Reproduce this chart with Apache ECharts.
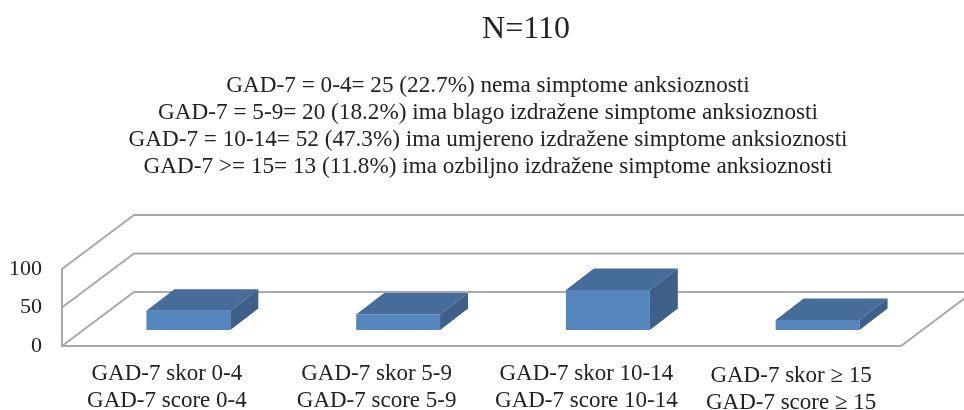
<!DOCTYPE html>
<html>
<head>
<meta charset="utf-8">
<style>
  html, body { margin: 0; padding: 0; background: #fff; }
  #chart { width: 964px; height: 410px; }
</style>
<script src="https://cdn.jsdelivr.net/npm/echarts@6/dist/echarts.min.js"></script>
</head>
<body>
<div id="chart"></div>
<script>
const titleText = 'N=110';
const summaryLines = [
  'GAD-7 = 0-4= 25 (22.7%) nema simptome anksioznosti',
  'GAD-7 = 5-9= 20 (18.2%) ima blago izdražene simptome anksioznosti',
  'GAD-7 = 10-14= 52 (47.3%) ima umjereno izdražene simptome anksioznosti',
  'GAD-7 >= 15= 13 (11.8%) ima ozbiljno izdražene simptome anksioznosti'
];
const categoriesLocal = ['GAD-7 skor 0-4', 'GAD-7 skor 5-9', 'GAD-7 skor 10-14', 'GAD-7 skor ≥ 15'];
const categoriesEnglish = ['GAD-7 score 0-4', 'GAD-7 score 5-9', 'GAD-7 score 10-14', 'GAD-7 score ≥ 15'];
const values = [25, 20, 52, 13];
const yTicks = [0, 50, 100];

const font = '"Liberation Serif", "Times New Roman", serif';
const gray = '#a9a9a9';
const floorDepth = [72, -54];
const barStart = [21.5, -16];
const barDepth = [28, -21.5];
const barWidthRatio = 0.4;

function renderWall(params, api) {
  const v = api.value(1);
  const half = api.size([1, 0])[0] / 2;
  const left = api.coord([0, v]);
  const right = api.coord([categoriesLocal.length - 1, v]);
  const x0 = left[0] - half;
  const x1 = right[0] + half;
  const y = left[1];
  const points = [[x0, y], [x0 + floorDepth[0], y + floorDepth[1]], [x1 + floorDepth[0], y + floorDepth[1]]];
  if (v === 0) points.push([x1, y]);
  return {
    type: 'polyline',
    shape: { points: points },
    style: { stroke: gray, lineWidth: 2, fill: 'none' }
  };
}

function renderBar(params, api) {
  const base = api.coord([api.value(0), 0]);
  const top = api.coord([api.value(0), api.value(1)]);
  const w = api.size([1, 0])[0] * barWidthRatio;
  const x0 = base[0] - w / 2 + barStart[0];
  const x1 = x0 + w;
  const yb = base[1] + barStart[1];
  const yt = top[1] + barStart[1];
  const dx = barDepth[0];
  const dy = barDepth[1];
  return {
    type: 'group',
    children: [
      { type: 'polygon', shape: { points: [[x0, yb], [x1, yb], [x1, yt], [x0, yt]] }, style: { fill: '#5585bd' } },
      { type: 'polygon', shape: { points: [[x0, yt], [x1, yt], [x1 + dx, yt + dy], [x0 + dx, yt + dy]] }, style: { fill: '#466c99' } },
      { type: 'polygon', shape: { points: [[x1, yb], [x1 + dx, yb + dy], [x1 + dx, yt + dy], [x1, yt]] }, style: { fill: '#3e5f87' } }
    ]
  };
}

const myChart = echarts.init(document.getElementById('chart'));

myChart.setOption({
  animation: false,
  backgroundColor: '#fff',
  title: [
    {
      text: titleText,
      left: 521,
      top: 9,
      textAlign: 'center',
      textStyle: { fontFamily: font, fontSize: 32, fontWeight: 'normal', color: '#222' }
    },
    {
      text: summaryLines.join('\n'),
      left: 483,
      top: 68,
      textAlign: 'center',
      textStyle: { fontFamily: font, fontSize: 23.2, fontWeight: 'normal', color: '#222', lineHeight: 26.7 }
    }
  ],
  grid: { left: 62, right: 63, top: 269, bottom: 64, outerBoundsMode: 'none' },
  xAxis: {
    type: 'category',
    data: categoriesLocal.map((c, i) => {
      const name = c + '\n' + categoriesEnglish[i];
      // last label sits a little left of its band centre in the original
      return i === 3 ? { value: name, textStyle: { padding: [2, 10, 0, 0] } } : name;
    }),
    axisLine: { show: true, lineStyle: { color: gray, width: 2 } },
    axisTick: { show: false },
    axisLabel: {
      interval: 0,
      margin: 15,
      fontFamily: font,
      fontSize: 23,
      lineHeight: 26.5,
      color: '#222'
    }
  },
  yAxis: {
    type: 'value',
    min: 0,
    max: 100,
    interval: 50,
    axisLine: { show: true, lineStyle: { color: gray, width: 2 } },
    axisTick: { show: false },
    splitLine: { show: false },
    axisLabel: { margin: 20, fontFamily: font, fontSize: 22, color: '#222' }
  },
  series: [
    {
      type: 'custom',
      name: 'walls',
      renderItem: renderWall,
      data: yTicks.map(t => [0, t]),
      encode: { x: 0, y: 1 },
      silent: true,
      z: 1
    },
    {
      type: 'custom',
      name: 'GAD-7',
      renderItem: renderBar,
      data: values.map((v, i) => [i, v]),
      encode: { x: 0, y: 1 },
      z: 2
    }
  ]
});
</script>
</body>
</html>
